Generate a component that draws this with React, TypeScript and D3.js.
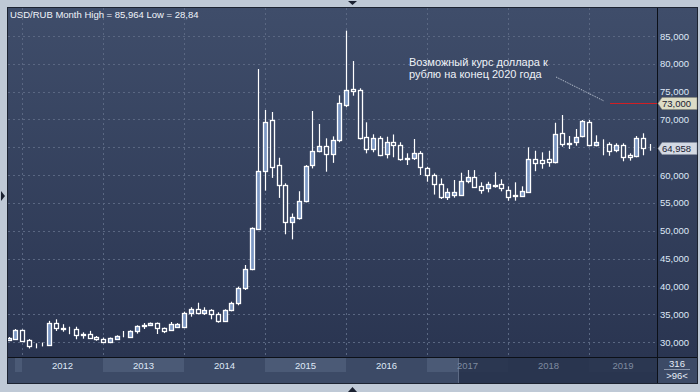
import React from 'react';
import * as d3 from 'd3';

const W = 700;
const H = 392;

// Monthly candles: Nov 2011 .. Oct 2019 (96 bars)
const months = d3.timeMonth.range(new Date(2011, 10, 1), new Date(2019, 10, 1));

const opens = [
  30.4, 30.59, 32.16, 30.36, 29.3, 29.45, 29.4, 33.47, 32.45, 32.3, 32.28, 31.25,
  31.44, 30.84, 30.54, 29.95, 30.6, 31.1, 30.95, 31.92, 32.9, 33.0, 33.41, 32.46,
  32.16, 32.75, 32.75, 35.15, 35.86, 35.15, 35.7, 34.98, 33.83, 35.7, 36.96, 39.65,
  43.12, 50.4, 60.73, 69.85, 61.76, 58.16, 51.51, 52.23, 55.29, 61.76, 64.28, 65.28,
  63.84, 66.24, 72.54, 75.4, 75.24, 66.9, 64.63, 66.61, 63.84, 65.89, 65.35, 62.95,
  63.15, 64.04, 61.22, 60.07, 58.34, 56.11, 56.42, 56.47, 58.88, 59.6, 57.98, 57.62,
  58.2, 58.34, 57.32, 56.25, 56.29, 57.01, 62.84, 62.66, 62.84, 62.41, 67.51, 65.6,
  65.89, 66.97, 69.49, 65.35, 65.85, 65.53, 64.56, 65.35, 63.56, 63.48, 66.61, 64.9,
];
const highs = [
  30.9, 32.34, 32.25, 30.54, 29.76, 29.9, 33.8, 34.08, 33.2, 32.75, 32.75, 31.74,
  32.0, 31.08, 30.8, 30.8, 31.2, 31.98, 32.1, 33.0, 33.41, 33.5, 33.5, 32.6,
  33.6, 33.4, 35.45, 36.24, 37.06, 36.24, 35.9, 35.34, 35.88, 37.24, 39.94, 43.84,
  50.6, 79.06, 71.7, 71.34, 63.12, 58.52, 53.1, 57.1, 61.8, 71.52, 69.18, 66.61,
  66.96, 74.34, 85.964, 80.5, 75.6, 69.49, 67.33, 67.0, 66.9, 67.3, 65.9, 63.92,
  66.49, 64.3, 61.5, 60.3, 59.4, 57.62, 59.12, 60.43, 60.91, 60.9, 58.7, 58.81,
  60.5, 59.24, 57.98, 58.7, 57.98, 64.99, 64.38, 64.09, 64.38, 69.41, 70.8, 67.02,
  68.28, 69.9, 69.9, 67.15, 66.43, 65.89, 65.71, 65.71, 63.92, 67.02, 67.51, 65.59,
];
const lows = [
  30.2, 30.36, 30.0, 28.84, 28.86, 29.2, 29.3, 31.98, 31.85, 31.4, 30.49, 30.59,
  30.6, 30.23, 29.8, 29.8, 30.5, 30.85, 30.9, 31.5, 32.34, 32.9, 31.44, 31.6,
  32.0, 32.6, 32.6, 34.55, 35.0, 34.85, 34.08, 33.47, 33.65, 35.52, 36.6, 39.35,
  42.9, 50.13, 57.2, 59.5, 55.9, 49.36, 48.45, 52.0, 55.1, 61.2, 64.1, 60.61,
  62.2, 65.9, 72.2, 74.27, 66.4, 63.91, 64.1, 63.4, 63.0, 63.2, 62.58, 61.81,
  62.71, 60.01, 58.81, 56.5, 55.7, 55.52, 55.94, 56.3, 58.52, 57.73, 56.65, 56.9,
  57.73, 57.08, 55.4, 55.4, 56.11, 56.8, 60.7, 61.15, 61.5, 62.1, 65.1, 64.69,
  65.28, 66.79, 65.17, 65.17, 63.56, 63.48, 64.1, 62.48, 62.6, 63.2, 63.56, 64.38,
];
const closes = [
  30.7, 32.16, 30.23, 29.28, 29.35, 29.5, 33.36, 32.45, 32.35, 32.25, 31.26, 31.35,
  30.77, 30.49, 29.95, 30.66, 31.08, 31.0, 31.98, 32.88, 33.0, 33.36, 32.45, 31.92,
  33.29, 33.24, 35.15, 35.86, 35.15, 35.7, 34.98, 33.83, 35.7, 36.96, 39.65, 43.12,
  50.43, 60.73, 69.54, 61.5, 58.16, 51.51, 52.41, 55.29, 61.58, 64.28, 65.28, 63.84,
  66.24, 72.9, 75.24, 75.2, 66.72, 64.63, 66.61, 63.6, 65.89, 65.35, 62.84, 63.05,
  64.04, 61.4, 60.07, 58.34, 56.11, 56.9, 56.9, 58.88, 59.6, 57.91, 57.37, 58.34,
  58.1, 57.62, 56.11, 56.35, 57.08, 62.84, 62.23, 62.23, 62.41, 67.33, 65.53, 65.8,
  66.9, 69.67, 65.35, 65.89, 65.78, 64.38, 65.35, 63.2, 63.2, 66.61, 64.87, 64.958,
];

const yTicks = [30, 35, 40, 45, 50, 55, 60, 65, 70, 75, 80, 85];
const years = [2011, 2012, 2013, 2014, 2015, 2016, 2017, 2018, 2019];
const lastValue = 64.958;
const targetValue = 73.0;
const titleText = 'USD/RUB Month High = 85,964 Low = 28,84';
const noteLines = ['Возможный курс доллара к', 'рублю на конец 2020 года'];
const counterTop = '316';
const counterBottom = '>96<';

const FONT = "'Liberation Sans', Arial, sans-serif";
const fmt = (v: number) => d3.format('.3f')(v).replace('.', ',');

export default function App() {
  const plotL = 8, plotR = 657, plotT = 8, plotB = 357;
  const axisR = 697, bandB = 383;

  const keys = months.map((m) => +m);
  const x = d3.scalePoint<number>().domain(keys).range([8.5, 649.75]);
  const y = d3.scaleLinear().domain([30, 85]).range([342, 36]);

  const candles = months.map((m, i) => ({
    m, o: opens[i], h: highs[i], l: lows[i], c: closes[i],
  }));

  const yearStartX = (yr: number) => {
    const d = +new Date(yr, 0, 1);
    const xv = x(d);
    if (xv !== undefined) return xv;
    const step = x.step();
    const first = months[0];
    const diff = (yr - first.getFullYear()) * 12 - first.getMonth();
    return 8.5 + diff * step;
  };

  const bw = 4;
  const splitX = 458;
  const yTarget = Math.round(y(targetValue)) + 0.5;
  const yLast = Math.round(y(lastValue)) + 0.5;
  const visibleTicks = yTicks.filter(
    (t) => Math.abs(y(t) - yLast) > 9 && Math.abs(y(t) - yTarget) > 9
  );

  const marker = (yy: number, value: number, fill: string, stroke: string, key: string) => (
    <g key={key}>
      <path d={`M${plotR + 1},${yy} L${plotR + 5},${yy - 6} L${axisR},${yy - 6} L${axisR},${yy + 6} L${plotR + 5},${yy + 6} Z`}
        fill={fill} stroke={stroke} strokeWidth={0.5} />
      <text x={662} y={yy + 3.5} fontFamily={FONT} fontSize={9.5} fill="#1a2030">{fmt(value)}</text>
    </g>
  );

  return (
    <svg width={W} height={H} style={{ position: 'absolute', left: 0, top: 0 }}
      xmlns="http://www.w3.org/2000/svg">
      <defs>
        <linearGradient id="bg" gradientUnits="userSpaceOnUse" x1="0" y1={plotT} x2="0" y2={plotB}>
          <stop offset="0%" stopColor="#3f4d6a" />
          <stop offset="100%" stopColor="#2a3551" />
        </linearGradient>
        <clipPath id="plotClip">
          <rect x={plotL} y={plotT} width={plotR - plotL} height={plotB - plotT} />
        </clipPath>
      </defs>
      <rect x={0} y={0} width={W} height={H} fill="#bfc9d6" />
      <rect x={7} y={7} width={axisR - 7 + 1} height={bandB - 7 + 1} fill="#1c2331" />
      <rect x={plotL} y={plotT} width={axisR - plotL} height={plotB - plotT} fill="url(#bg)" />

      {/* bottom band */}
      <rect x={plotL} y={plotB} width={axisR - plotL} height={bandB - plotB} fill="#3c4a66" />
      {years.map((yr, k) => {
        const x0 = Math.max(yearStartX(yr), 15);
        const x1 = Math.min(yearStartX(yr + 1), plotR);
        return k % 2 === 0 ? (
          <rect key={'b' + yr} x={x0} y={358} width={x1 - x0} height={14} fill="#4b5a76" />
        ) : null;
      })}
      <rect x={splitX} y={358} width={plotR - splitX} height={bandB - 358} fill="#27324c" opacity={0.88} />
      <line x1={splitX + 0.5} x2={splitX + 0.5} y1={358} y2={bandB} stroke="#5d6a84" />
      {years.map((yr) => {
        const x0 = Math.max(yearStartX(yr), 15);
        const x1 = Math.min(yearStartX(yr + 1), plotR);
        if (x1 - x0 < 30) return null;
        const cx = (x0 + x1) / 2;
        const dim = cx > splitX;
        return (
          <text key={'t' + yr} x={cx} y={369} textAnchor="middle" fontFamily={FONT}
            fontSize={9.5} fill={dim ? '#7f8ba0' : '#dfe8f6'}>{yr}</text>
        );
      })}
      <rect x={plotR + 1} y={plotB + 1} width={axisR - plotR - 1} height={bandB - plotB - 1} fill="#3c4a66" />
      <text x={677} y={367} textAnchor="middle" fontFamily={FONT} fontSize={9.5} fill="#e6edf7">{counterTop}</text>
      <line x1={664} x2={690} y1={369.5} y2={369.5} stroke="#8c98ad" />
      <text x={677} y={379} textAnchor="middle" fontFamily={FONT} fontSize={9.5} fill="#e6edf7">{counterBottom}</text>

      {/* grid */}
      <g clipPath="url(#plotClip)">
        {yTicks.map((t) => (
          <line key={'h' + t} x1={plotL} x2={plotR} y1={Math.round(y(t)) + 0.5} y2={Math.round(y(t)) + 0.5}
            stroke="#5a6782" strokeDasharray="2,3" />
        ))}
        {years.slice(1).map((yr) => (
          <line key={'v' + yr} x1={Math.round(yearStartX(yr)) + 0.5} x2={Math.round(yearStartX(yr)) + 0.5}
            y1={plotT} y2={plotB} stroke="#5a6782" strokeDasharray="2,3" />
        ))}
      </g>

      <line x1={plotR + 0.5} x2={plotR + 0.5} y1={plotT} y2={bandB} stroke="#0c1018" />
      <line x1={plotL} x2={axisR} y1={plotB + 0.5} y2={plotB + 0.5} stroke="#0c1018" />

      {visibleTicks.map((t) => (
        <text key={'yl' + t} x={660} y={y(t) + 3.5} fontFamily={FONT} fontSize={9.5} fill="#dfe8f6">{fmt(t)}</text>
      ))}

      {/* candles */}
      <g clipPath="url(#plotClip)">
        {candles.map((d) => {
          const cx = Math.round(x(+d.m)!);
          const up = d.c > d.o;
          const yTop = Math.round(y(Math.max(d.o, d.c)));
          const yBot = Math.round(y(Math.min(d.o, d.c)));
          const hgt = Math.max(0, yBot - yTop);
          return (
            <g key={+d.m}>
              <line x1={cx + 0.5} x2={cx + 0.5} y1={y(d.h)} y2={y(d.l)} stroke="#ffffff" strokeWidth={1.2} />
              <rect x={cx - bw / 2 + 0.5} y={yTop + 0.5} width={bw} height={hgt}
                fill={up ? '#7b97c4' : 'url(#bg)'} stroke="#ffffff" strokeWidth={1.3} />
            </g>
          );
        })}
      </g>

      <text x={10} y={18} fontFamily={FONT} fontSize={9.5} fill="#f0f4fa">{titleText}</text>

      {noteLines.map((t, i) => (
        <text key={'n' + i} x={409} y={66 + i * 12} fontFamily={FONT} fontSize={11} fill="#eef2f8">{t}</text>
      ))}
      <line x1={556} y1={77} x2={604} y2={101} stroke="#c4ccd8" strokeDasharray="1,1" />

      <line x1={610} x2={plotR} y1={yTarget} y2={yTarget} stroke="#d11f24" strokeWidth={1} />
      {marker(yTarget, targetValue, '#dcdcc6', '#8a8a78', 'mt')}
      {marker(yLast, lastValue, '#d3d9e3', '#8a93a3', 'ml')}

      <path d="M348,1 L357,1 L352.5,5 Z" fill="#1a2030" />
      <path d="M348,392 L357,392 L352.5,387 Z" fill="#1a2030" />
      <path d="M1,191 L1,201 L5,196 Z" fill="#1a2030" />
    </svg>
  );
}
